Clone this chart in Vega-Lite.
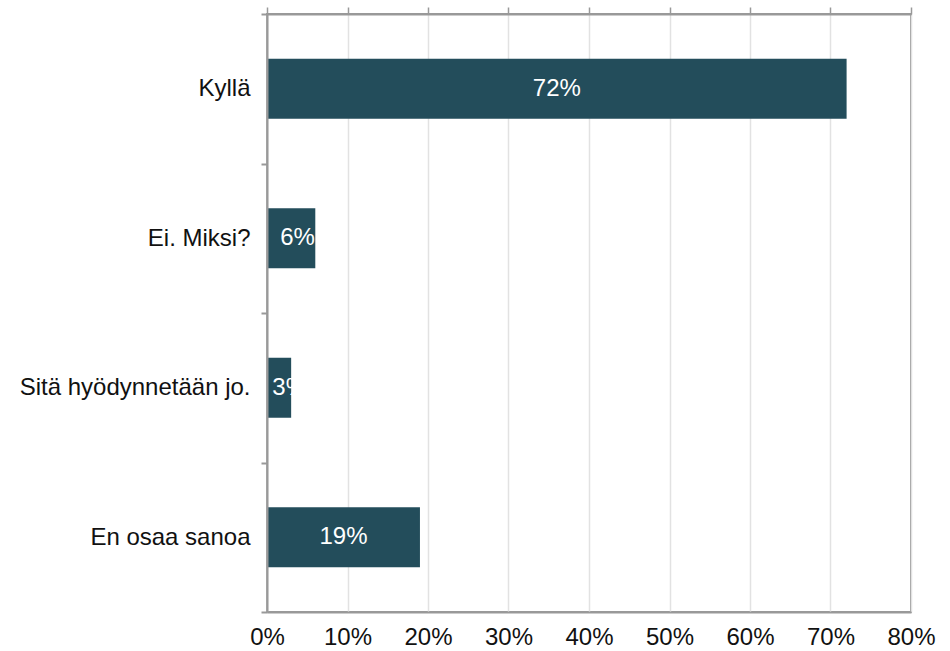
{
  "$schema": "https://vega.github.io/schema/vega-lite/v6.json",
  "autosize": "none",
  "width": 644,
  "height": 598,
  "padding": {"left": 267, "top": 14, "right": 39, "bottom": 39},
  "background": "white",
  "config": {
    "font": "Liberation Sans",
    "view": {"stroke": "#999999", "strokeWidth": 2}
  },
  "data": {
    "values": [
      {"answer": "Kyllä", "share": 0.72},
      {"answer": "Ei. Miksi?", "share": 0.06},
      {"answer": "Sitä hyödynnetään jo.", "share": 0.03},
      {"answer": "En osaa sanoa", "share": 0.19}
    ]
  },
  "encoding": {
    "y": {
      "field": "answer",
      "type": "nominal",
      "sort": null,
      "title": null,
      "scale": {"paddingInner": 0, "paddingOuter": 0},
      "axis": {
        "tickBand": "extent",
        "tickSize": 6,
        "tickColor": "#999999",
        "tickWidth": 2,
        "domainColor": "#999999",
        "domainWidth": 2,
        "labelFontSize": 24,
        "labelColor": "#111111",
        "labelPadding": 11,
        "labelLimit": 400,
        "labelFont": "Liberation Sans",
        "zindex": 1
      }
    }
  },
  "layer": [
    {
      "mark": {"type": "bar", "color": "#234d5b", "height": {"band": 0.4}},
      "encoding": {
        "x": {
          "field": "share",
          "type": "quantitative",
          "title": null,
          "scale": {"domain": [0, 0.8], "nice": false},
          "axis": {
            "orient": "top",
            "format": ".0%",
            "values": [0, 0.1, 0.2, 0.3, 0.4, 0.5, 0.6, 0.7, 0.8],
            "labels": false,
            "grid": true,
            "gridColor": "#e2e2e2",
            "gridWidth": 1.5,
            "tickSize": 7,
            "tickColor": "#999999",
            "tickWidth": 1.5,
            "domainColor": "#999999",
            "domainWidth": 2,
            "zindex": 0
          }
        }
      }
    },
    {
      "transform": [{"calculate": "datum.share < 0.1 ? 0.323 * datum.share + 0.0185 : datum.share / 2", "as": "mid"}],
      "mark": {"type": "text", "color": "white", "fontSize": 24, "align": "center", "baseline": "middle", "font": "Liberation Sans", "clip": true},
      "encoding": {
        "x": {
          "field": "mid",
          "type": "quantitative",
          "title": null,
          "scale": {"domain": [0, 0.8], "nice": false},
          "axis": {
            "orient": "bottom",
            "format": ".0%",
            "values": [0, 0.1, 0.2, 0.3, 0.4, 0.5, 0.6, 0.7, 0.8],
            "grid": false,
            "ticks": false,
            "labelFlush": false,
            "labelFontSize": 24,
            "labelColor": "#111111",
            "labelPadding": 13,
            "labelFont": "Liberation Sans",
            "domainColor": "#999999",
            "domainWidth": 2,
            "zindex": 1
          }
        },
        "text": {"field": "share", "type": "quantitative", "format": ".0%"}
      }
    }
  ],
  "resolve": {"axis": {"x": "independent"}}
}
